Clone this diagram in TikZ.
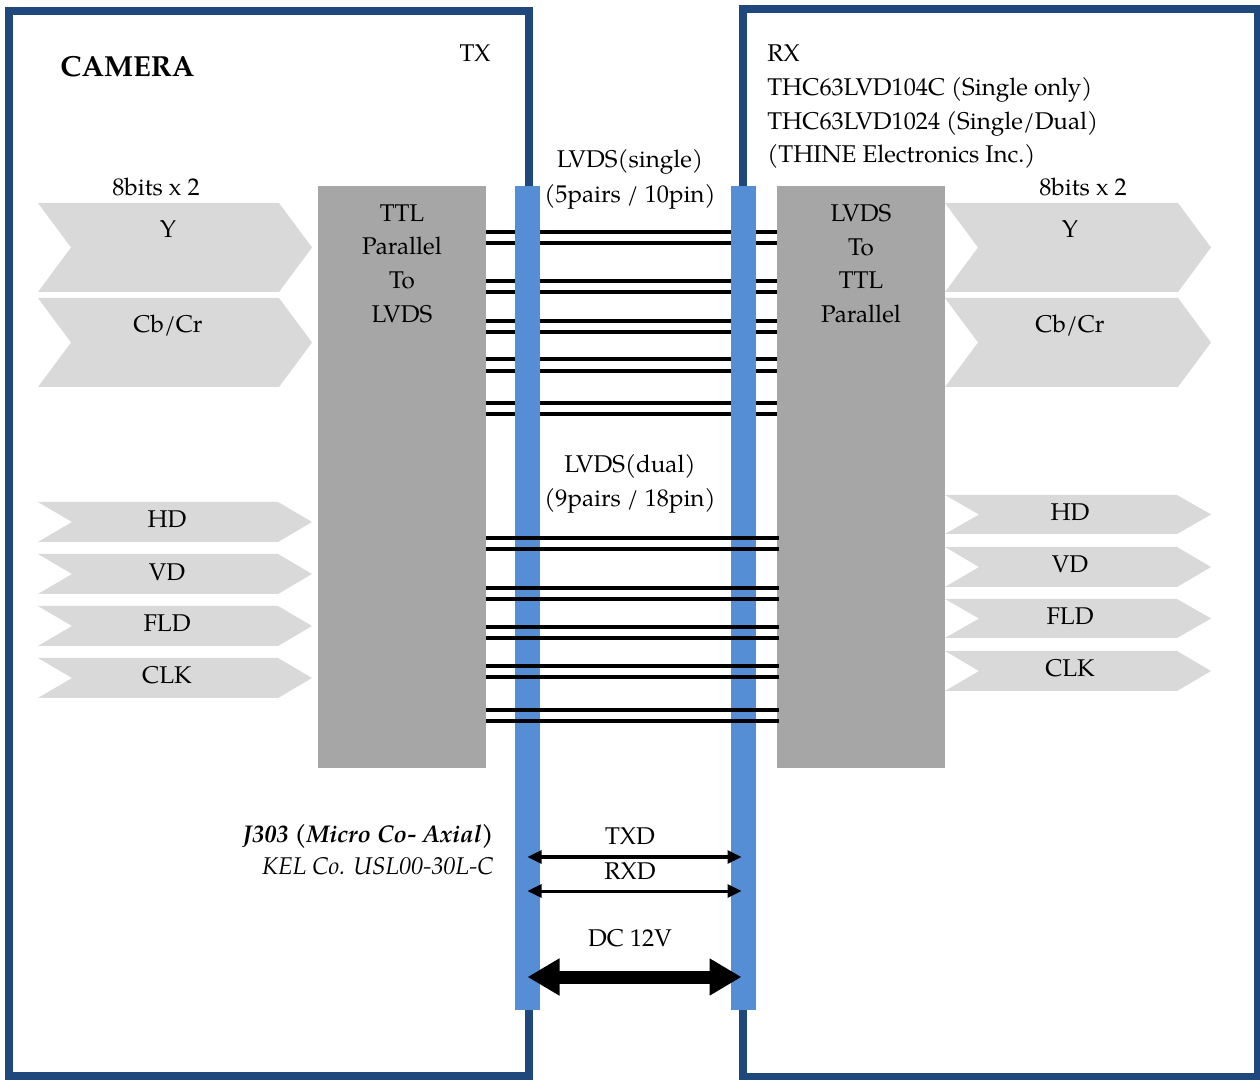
\documentclass[tikz,border=0pt]{standalone}
\usepackage{fontspec}
\setmainfont{TeX Gyre Pagella}
\usetikzlibrary{arrows.meta}
\definecolor{frameblue}{RGB}{31,73,125}
\definecolor{barblue}{RGB}{85,142,213}
\definecolor{boxgray}{RGB}{166,166,166}
\definecolor{chevgray}{RGB}{217,217,217}
\newcommand\chevshape[5]{\fill[chevgray] (#1,#3) -- ({#2-#5},#3) -- (#2,{(#3+#4)/2}) -- ({#2-#5},#4) -- (#1,#4) -- ({#1+#5},{(#3+#4)/2}) -- cycle;}
\begin{document}
\begin{tikzpicture}[x=0.5pt,y=-0.5pt,
  lbl/.style={font=\fontsize{12.1}{15}\selectfont, inner sep=0pt, anchor=base},
  lblw/.style={lbl, anchor=base west},
  framebox/.style={draw=frameblue, line width=4pt},
  graybox/.style={fill=boxgray, inner sep=0pt, minimum width=84pt, minimum height=291pt},
  connbar/.style={fill=barblue, inner sep=0pt, minimum width=12.5pt, minimum height=412pt},
  wire/.style={line width=1.75pt, black},
  thinarrow/.style={line width=1.5pt, {Triangle[length=7pt,width=6.5pt]}-{Triangle[length=7pt,width=6.5pt]}},
  thickarrow/.style={line width=6.5pt, {Triangle[length=16pt,width=17.5pt]}-{Triangle[length=16pt,width=17.5pt]}}
]
\useasboundingbox (0,0) rectangle (1260,1080);
\fill[white] (0,0) rectangle (1260,1080);
% frames
\draw[framebox] (8.5,11) rectangle (529,1076);
\draw[framebox] (743,9) rectangle (1258,1077);
% chevrons left
\chevshape{38}{312}{203}{292}{33}
\chevshape{38}{312}{298}{387}{33}
\chevshape{38}{312}{502}{542}{34}
\chevshape{38}{312}{554}{594}{34}
\chevshape{38}{312}{606}{646}{34}
\chevshape{38}{312}{658}{698}{34}
% chevrons right
\chevshape{945}{1211}{203}{292}{33}
\chevshape{945}{1211}{298}{387}{33}
\chevshape{945}{1211}{495}{534}{34}
\chevshape{945}{1211}{547}{587}{34}
\chevshape{945}{1211}{599}{638}{34}
\chevshape{945}{1211}{651}{691}{34}
% gray boxes
\node[graybox] (tx) at (402,477) {};
\node[graybox] (rx) at (861,477) {};
% single LVDS wires (under bars)
\foreach \yy in {232,243,281,292,321,332,359,371,403,414}
  \draw[wire] (tx.east |- 0,\yy) -- (rx.west |- 0,\yy);
% connector bars
\node[connbar] (bar1) at (527.5,598) {};
\node[connbar] (bar2) at (743.5,598) {};
% dual LVDS wires (over bars)
\foreach \yy in {538,549,588,599,627,638,666,677,710,721}
  \draw[wire] (tx.east |- 0,\yy) -- ([xshift=1pt]rx.west |- 0,\yy);
% serial and power arrows
\draw[thinarrow] (bar1.center |- 0,857) -- ([xshift=-1pt]bar2.center |- 0,857);
\draw[thinarrow] (bar1.center |- 0,891) -- ([xshift=-1pt]bar2.center |- 0,891);
\draw[thickarrow] (bar1.center |- 0,977) -- ([xshift=-1pt]bar2.center |- 0,977);
% texts
\node[lblw, font=\bfseries\fontsize{14.5}{17}\selectfont] (camera) at (60,77) {CAMERA};
\node[lbl] (txlbl) at (475,62) {TX};
\node[lblw] (rx1) at (767,62) {RX};
\node[lblw] (rx2) at (767,96) {THC63LVD104C (Single only)};
\node[lblw] (rx3) at (767,130) {THC63LVD1024 (Single/Dual)};
\node[lblw] (rx4) at (767,163) {(THINE Electronics Inc.)};
\node[lbl] (ls1) at (630,168) {LVDS(single)};
\node[lbl] (ls2) at (630,203) {(5pairs / 10pin)};
\node[lbl] (ld1) at (630,473) {LVDS(dual)};
\node[lbl] (ld2) at (630,507) {(9pairs / 18pin)};
\node[lbl] (bitsl) at (156,196) {8bits x 2};
\node[lbl] (bitsr) at (1083,196) {8bits x 2};
\node[lbl] (yl) at (168,238) {Y};
\node[lbl] (cl) at (168,333) {Cb/Cr};
\node[lbl] (yr) at (1070,238) {Y};
\node[lbl] (cr) at (1070,333) {Cb/Cr};
\node[lbl] (hdl) at (167,528) {HD};
\node[lbl] (vdl) at (167,581) {VD};
\node[lbl] (fldl) at (167,632) {FLD};
\node[lbl] (clkl) at (167,684) {CLK};
\node[lbl] (hdr) at (1070,521) {HD};
\node[lbl] (vdr) at (1070,573) {VD};
\node[lbl] (fldr) at (1070,625) {FLD};
\node[lbl] (clkr) at (1070,677) {CLK};
\node[lbl] (t1) at (402,222) {TTL};
\node[lbl] (t2) at (402,255) {Parallel};
\node[lbl] (t3) at (402,289) {To};
\node[lbl] (t4) at (402,323) {LVDS};
\node[lbl] (r1) at (861,222) {LVDS};
\node[lbl] (r2) at (861,256) {To};
\node[lbl] (r3) at (861,289) {TTL};
\node[lbl] (r4) at (861,323) {Parallel};
\node[lbl, anchor=base east, font=\bfseries\itshape\fontsize{12.1}{15}\selectfont] (j303) at (494,842) {J303 (Micro Co- Axial)};
\node[lbl, anchor=base east, font=\itshape\fontsize{12.1}{15}\selectfont] (kel) at (494,875) {KEL Co. USL00-30L-C};
\node[lbl] (txd) at (630,845) {TXD};
\node[lbl] (rxd) at (630,879) {RXD};
\node[lbl] (dc) at (630,946) {DC 12V};
\end{tikzpicture}
\end{document}
